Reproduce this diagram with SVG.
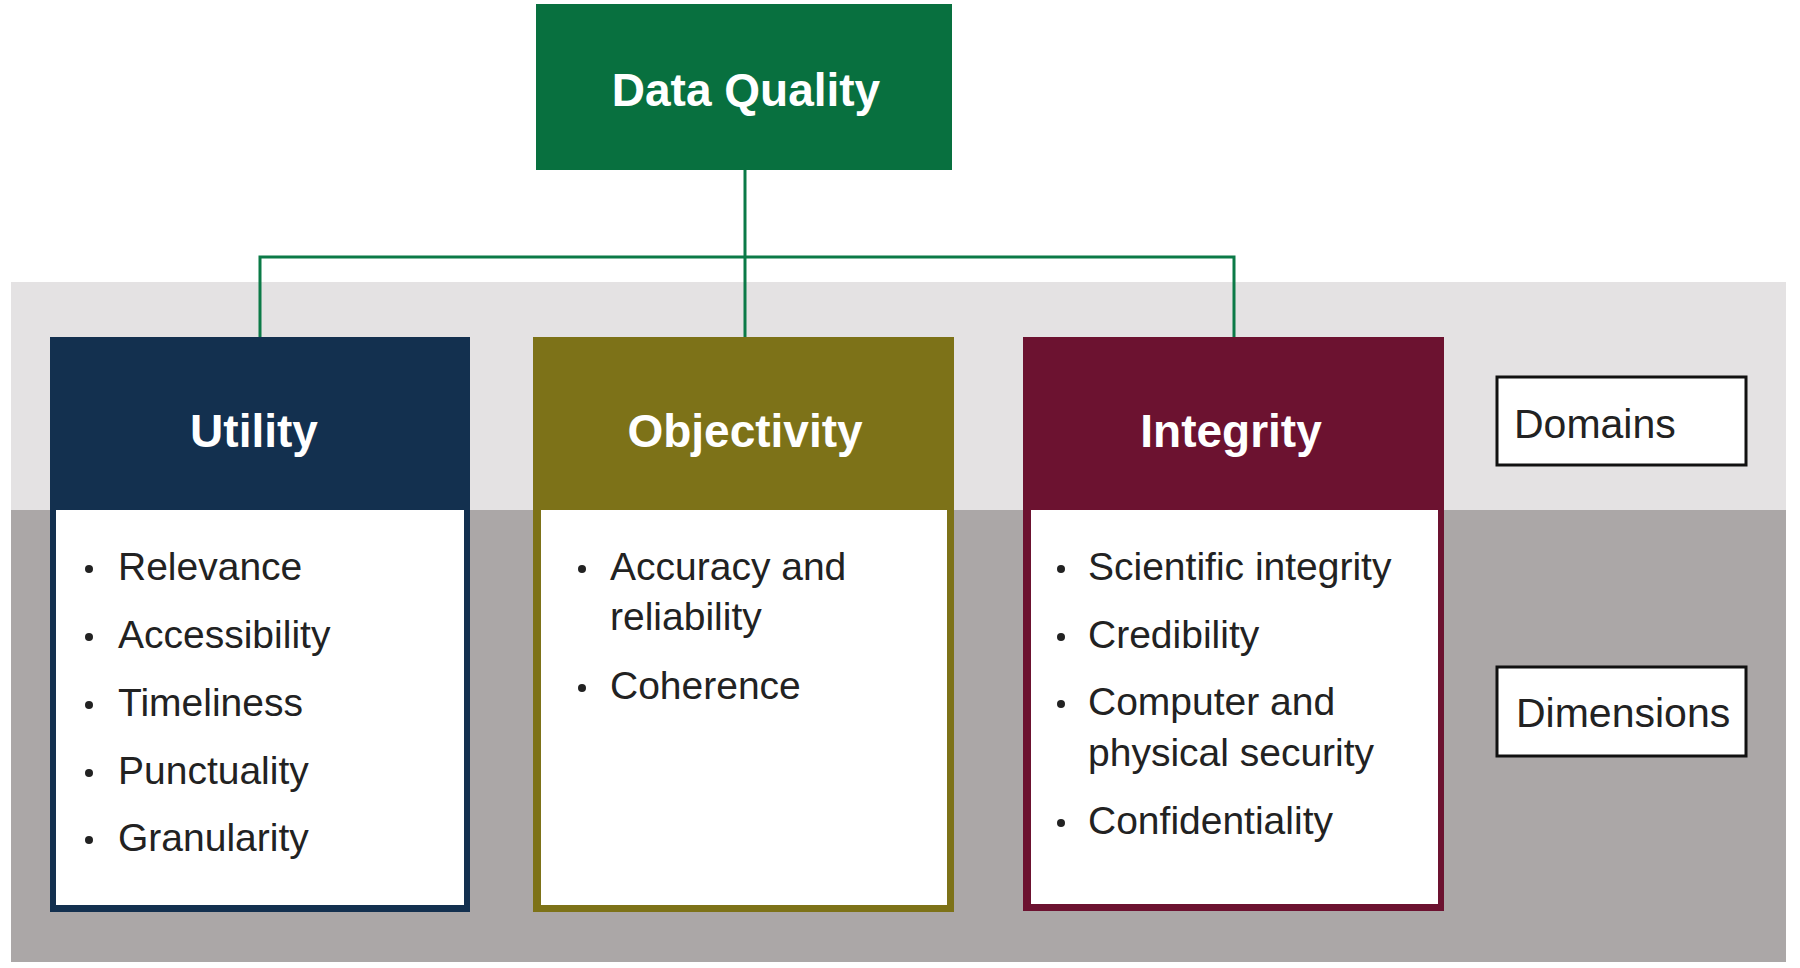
<svg xmlns="http://www.w3.org/2000/svg" width="1800" height="968" viewBox="0 0 1800 968">
<style>
.hdr{font-family:"Liberation Sans",Arial,sans-serif;font-weight:bold;font-size:46px;fill:#ffffff;text-anchor:middle}
.item{font-family:"Liberation Sans",Arial,sans-serif;font-size:39px;fill:#222222}
.lbl{font-family:"Liberation Sans",Arial,sans-serif;font-size:41px;fill:#222222}
.body{fill:#ffffff}
.legend{fill:#ffffff;stroke:#111111;stroke-width:3}
.conn{fill:none;stroke:#0b7a47;stroke-width:3}
.dot{fill:#222222}
</style>
<rect x="0" y="0" width="1800" height="968" fill="#ffffff"/>
<g id="bands">
<rect x="11" y="282" width="1775" height="228" fill="#e4e2e3"/>
<rect x="11" y="510" width="1775" height="452" fill="#aba7a7"/>
</g>
<g id="connectors">
<path class="conn" d="M745 170 V337"/>
<path class="conn" d="M260 337 V257 H1234 V337"/>
</g>
<g id="data-quality">
<rect x="536" y="4" width="416" height="166" fill="#08703f"/>
<text class="hdr" x="746" y="106">Data Quality</text>
</g>
<g id="utility">
<rect x="50" y="337" width="420" height="575" fill="#13304f"/>
<rect class="body" x="56" y="510" width="408" height="395"/>
<text class="hdr" x="254" y="447">Utility</text>
<circle class="dot" cx="89" cy="569" r="4"/>
<text class="item" x="118" y="580">Relevance</text>
<circle class="dot" cx="89" cy="637" r="4"/>
<text class="item" x="118" y="648">Accessibility</text>
<circle class="dot" cx="89" cy="705" r="4"/>
<text class="item" x="118" y="716">Timeliness</text>
<circle class="dot" cx="89" cy="773" r="4"/>
<text class="item" x="118" y="784">Punctuality</text>
<circle class="dot" cx="89" cy="840" r="4"/>
<text class="item" x="118" y="851">Granularity</text>
</g>
<g id="objectivity">
<rect x="533" y="337" width="421" height="575" fill="#7d7218"/>
<rect class="body" x="541" y="510" width="406" height="395"/>
<text class="hdr" x="745" y="447">Objectivity</text>
<circle class="dot" cx="582" cy="569" r="4"/>
<text class="item" x="610" y="580">Accuracy and</text>
<text class="item" x="610" y="630">reliability</text>
<circle class="dot" cx="582" cy="688" r="4"/>
<text class="item" x="610" y="699">Coherence</text>
</g>
<g id="integrity">
<rect x="1023" y="337" width="421" height="574" fill="#6c1230"/>
<rect class="body" x="1031" y="510" width="407" height="394"/>
<text class="hdr" x="1231" y="447">Integrity</text>
<circle class="dot" cx="1061" cy="569" r="4"/>
<text class="item" x="1088" y="580">Scientific integrity</text>
<circle class="dot" cx="1061" cy="637" r="4"/>
<text class="item" x="1088" y="648">Credibility</text>
<circle class="dot" cx="1061" cy="704" r="4"/>
<text class="item" x="1088" y="715">Computer and</text>
<text class="item" x="1088" y="766">physical security</text>
<circle class="dot" cx="1061" cy="823" r="4"/>
<text class="item" x="1088" y="834">Confidentiality</text>
</g>
<g id="domains-label">
<rect class="legend" x="1497" y="377" width="249" height="88"/>
<text class="lbl" x="1514" y="438">Domains</text>
</g>
<g id="dimensions-label">
<rect class="legend" x="1497" y="667" width="249" height="89"/>
<text class="lbl" x="1516" y="727">Dimensions</text>
</g>
</svg>
